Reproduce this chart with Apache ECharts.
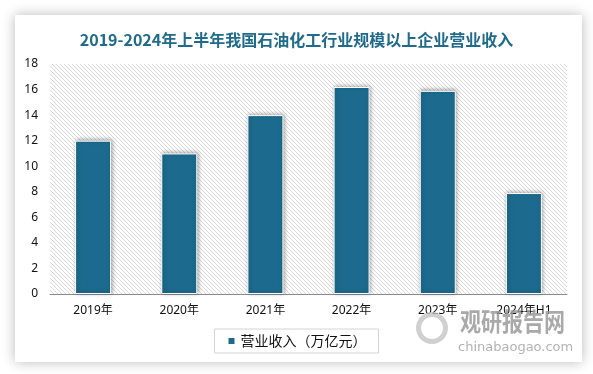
<!DOCTYPE html>
<html>
<head>
<meta charset="utf-8">
<script src="https://cdn.jsdelivr.net/npm/echarts@6/dist/echarts.min.js"></script>
<style>
html,body{margin:0;padding:0;background:#fff;}
#chart{width:593px;height:374px;}
</style>
</head>
<body>
<div id="chart"></div>
<script>
var titleText = '2019-2024年上半年我国石油化工行业规模以上企业营业收入';
var categories = ['2019年', '2020年', '2021年', '2022年', '2023年', '2024年H1'];
var seriesName = '营业收入（万亿元）';
var revenue = [12.0, 11.0, 14.0, 16.2, 15.9, 7.9];
var yTicks = [0, 2, 4, 6, 8, 10, 12, 14, 16, 18];

var pat = document.createElement('canvas');
pat.width = 4; pat.height = 4;
var pc = pat.getContext('2d');
pc.fillStyle = '#ffffff';
pc.fillRect(0, 0, 4, 4);
pc.fillStyle = '#d9d9d9';
for (var i = 0; i < 4; i++) { pc.fillRect(i, i, 1, 1); }

var chart = echarts.init(document.getElementById('chart'), null, {renderer: 'canvas'});
var font = '"Noto Sans", "Noto Sans CJK SC", sans-serif';
chart.setOption({
  backgroundColor: '#ffffff',
  animation: false,
  graphic: [
    {type: 'rect', z: -10, silent: true,
     shape: {x: 15, y: 15, width: 567, height: 347},
     style: {fill: '#ffffff', shadowBlur: 12, shadowColor: 'rgba(0,0,0,0.28)', shadowOffsetX: 0, shadowOffsetY: 0}},
    {type: 'text', z: 5, silent: true, x: 460, y: 309, scaleY: 1.2,
     style: {text: '观研报告网', fill: '#9a9a9a', font: 'bold 21px "Noto Sans CJK SC"', opacity: 0.85}},
    {type: 'text', z: 5, silent: true, left: 458, top: 341,
     style: {text: 'chinabaogao.com', fill: '#a5a5a5', font: '13px "DejaVu Sans"', opacity: 0.85}},
    {type: 'ring', z: 5, silent: true, shape: {cx: 432, cy: 328, r: 16, r0: 11},
     style: {fill: '#c4c4c4', opacity: 0.8}}
  ],
  title: {
    text: titleText,
    left: 'center',
    top: 27,
    textStyle: {fontSize: 16, fontWeight: 'bold', color: '#1f6b8c', fontFamily: '"Noto Sans CJK SC", sans-serif'}
  },
  legend: {
    data: [seriesName],
    left: 'center',
    top: 329,
    itemWidth: 8,
    itemHeight: 8,
    itemGap: 4,
    icon: 'rect',
    padding: [5, 12, 5, 12],
    borderColor: '#d4d4d4',
    borderWidth: 1,
    textStyle: {fontSize: 14, color: '#111', fontFamily: '"Noto Sans CJK SC", sans-serif'}
  },
  grid: {
    left: 50, right: 26, top: 64, bottom: 80,
    show: true,
    borderWidth: 0,
    backgroundColor: {image: pat, repeat: 'repeat'}
  },
  xAxis: {
    type: 'category',
    data: categories,
    axisLine: {show: true, lineStyle: {color: '#8c8c8c', width: 1}},
    axisTick: {show: false},
    axisLabel: {fontSize: 12, color: '#111', margin: 11, fontFamily: font}
  },
  yAxis: {
    type: 'value',
    min: yTicks[0],
    max: yTicks[yTicks.length - 1],
    interval: 2,
    axisLine: {show: false},
    axisTick: {show: false},
    splitLine: {show: false},
    axisLabel: {fontSize: 12, color: '#111', margin: 12, fontFamily: font}
  },
  series: [{
    name: seriesName,
    type: 'bar',
    data: revenue,
    barWidth: 36,
    itemStyle: {
      color: '#1c6b8e',
      borderColor: '#ffffff',
      borderWidth: 1,
      shadowBlur: 4,
      shadowColor: 'rgba(0,0,0,0.35)',
      shadowOffsetX: 1,
      shadowOffsetY: -1
    }
  }]
});
</script>
</body>
</html>
